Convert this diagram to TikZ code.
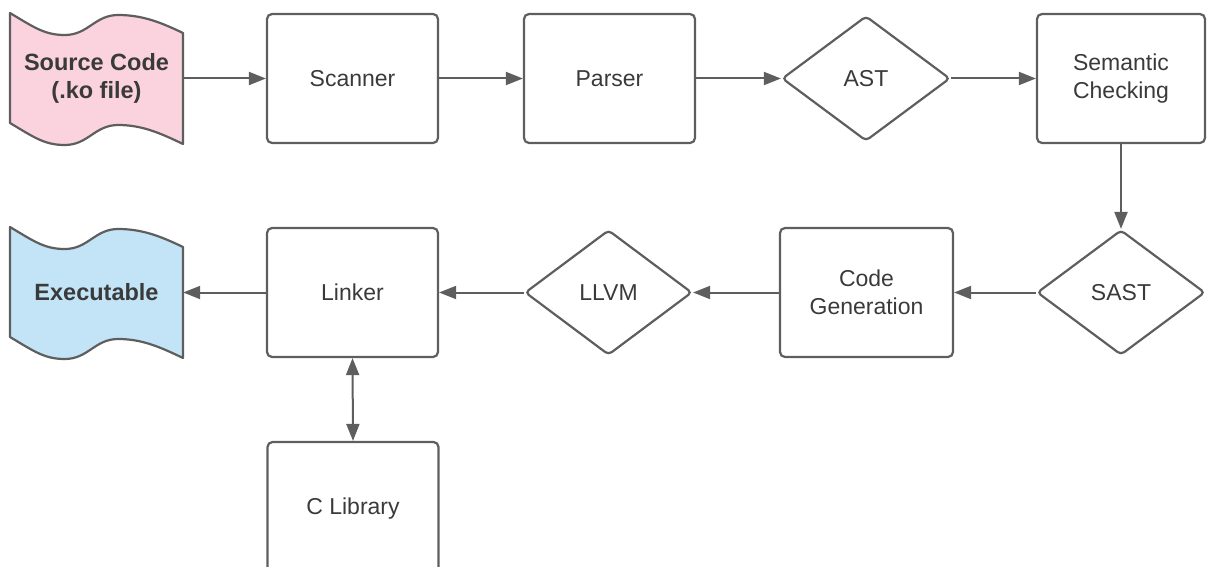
\documentclass[tikz,border=0pt]{standalone}
\usepackage{fontspec}
\setmainfont{Liberation Sans}
\usetikzlibrary{arrows.meta,shapes.geometric}
\definecolor{ln}{RGB}{94,94,94}
\definecolor{tx}{RGB}{58,58,58}
\definecolor{pinkf}{RGB}{250,211,223}
\definecolor{bluef}{RGB}{194,228,246}
\tikzset{
  box/.style={draw=ln, line width=2.2pt, rounded corners=5pt, minimum width=171pt, minimum height=129pt, inner sep=0pt, text=tx, align=center, font=\fontsize{23}{28}\selectfont},
  dia/.style={diamond, draw=ln, line width=2.2pt, rounded corners=4pt, minimum width=168pt, minimum height=125pt, inner sep=0pt, text=tx, align=center, font=\fontsize{23}{28}\selectfont},
  doc/.style={minimum width=173pt, minimum height=110pt, inner sep=0pt, text=tx, align=center, font=\bfseries\fontsize{23.5}{28}\selectfont},
  wave/.style={draw=ln, line width=2.2pt, line join=round},
  tip/.style={Triangle[length=17pt,width=13pt]},
  conn/.style={draw=ln, line width=2pt, -{Triangle[length=17pt,width=13pt]}},
  biconn/.style={draw=ln, line width=2pt, {Triangle[length=17pt,width=13pt]}-{Triangle[length=17pt,width=13pt]}}
}
\begin{document}
\begin{tikzpicture}[x=1pt,y=-1pt]
\useasboundingbox (0,0) rectangle (1207,567);
% wavy document shapes
\foreach \dy/\col in {0/pinkf,214/bluef}{
\begin{scope}[shift={(0,\dy)}]
\path[wave, fill=\col] (10,13) .. controls (35,28) and (45,35) .. (65,35)
  .. controls (88,35) and (95,15) .. (118,15)
  .. controls (142,15) and (160,22) .. (183,33)
  -- (183,144)
  .. controls (160,133) and (142,125) .. (118,125)
  .. controls (95,125) and (88,145) .. (65,145)
  .. controls (45,145) and (35,138) .. (10,123) -- cycle;
\end{scope}}
\node[doc] (src) at (96.5,78.5) {Source Code\\(.ko file)};
\node[doc] (exe) at (96.5,292.5) {Executable};
\node[box] (scan) at (352.5,78.5) {Scanner};
\node[box] (pars) at (609.5,78.5) {Parser};
\node[dia] (ast) at (866,78.5) {AST};
\node[box, minimum width=168pt] (sem) at (1121,78.5) {Semantic\\Checking};
\node[dia] (sast) at (1121,292.5) {SAST};
\node[box, minimum width=173pt] (cg) at (866.5,292.5) {Code\\Generation};
\node[dia, minimum width=167pt] (llvm) at (608.5,292.5) {LLVM};
\node[box] (link) at (352.5,292.5) {Linker};
\node[box, minimum height=134pt] (clib) at (353,509) {C Library};
\draw[conn] (src.east) -- (scan.west);
\draw[conn] (scan.east) -- (pars.west);
\draw[conn] (pars.east) -- (ast.west);
\draw[conn] (ast.east) -- (sem.west);
\draw[conn] (sem.south) -- (sast.north);
\draw[conn] (sast.west) -- (cg.east);
\draw[conn] (cg.west) -- (llvm.east);
\draw[conn] (llvm.west) -- (link.east);
\draw[conn] (link.west) -- (exe.east);
\draw[biconn] (link.south) -- (clib.north);
\end{tikzpicture}
\end{document}
